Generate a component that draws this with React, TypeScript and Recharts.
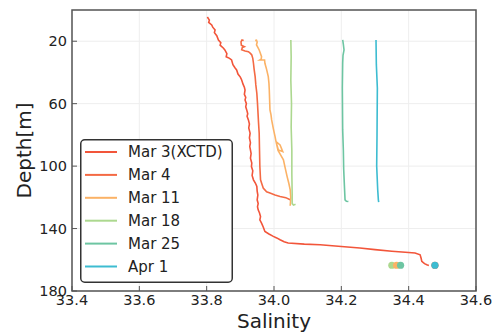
import React from 'react';
import {
  ComposedChart,
  Line,
  Scatter,
  XAxis,
  YAxis,
  CartesianGrid,
  ReferenceArea,
  Legend,
} from 'recharts';

const FONT = '"DejaVu Sans", Verdana, sans-serif';

// Salinity / depth profiles: [salinity, depth in m]
const mar3Profile: [number, number][] = [
  [33.802, 4.5], [33.808, 6.5], [33.806, 8], [33.815, 9.6], [33.818, 11], [33.825, 12.8],
  [33.823, 14.5], [33.83, 16.5], [33.835, 19.2], [33.842, 21], [33.84, 22.5], [33.85, 24.5],
  [33.854, 25.6], [33.86, 28], [33.858, 30], [33.868, 31], [33.874, 32], [33.878, 35],
  [33.884, 37], [33.889, 38.4], [33.893, 41], [33.9, 43], [33.904, 44.8], [33.908, 47.5],
  [33.912, 49.5], [33.914, 51.2], [33.912, 54], [33.916, 56], [33.914, 57.6], [33.918, 60],
  [33.916, 62], [33.919, 64], [33.922, 66.5], [33.92, 68], [33.924, 70.4], [33.927, 73],
  [33.925, 75.5], [33.929, 78.9], [33.927, 82], [33.93, 85], [33.928, 87.5], [33.93, 89.6],
  [33.932, 92], [33.93, 95], [33.934, 98], [33.933, 100.3], [33.937, 103], [33.935, 106],
  [33.939, 108.8], [33.945, 111], [33.949, 113], [33.95, 116], [33.952, 118.5], [33.95, 121.6],
  [33.953, 124], [33.951, 126], [33.953, 128], [33.957, 130], [33.96, 132.3], [33.958, 134.5],
  [33.963, 136.5], [33.968, 139], [33.973, 141.9], [33.985, 143.5], [33.998, 145], [34.008, 146],
  [34.018, 147.2], [34.03, 148.5], [34.042, 149.3], [34.09, 150], [34.137, 150.4], [34.2, 151.5],
  [34.255, 152.5], [34.3, 153.5], [34.35, 154.5], [34.4, 155.3], [34.419, 155.7], [34.434, 156.8],
  [34.437, 159], [34.439, 161], [34.447, 162.5], [34.454, 163.2], [34.46, 163.6],
];

const mar4Profile: [number, number][] = [
  [33.91, 19.5], [33.905, 19.2], [33.902, 20.5], [33.903, 22.5], [33.912, 23.5], [33.906, 24],
  [33.904, 25.5], [33.914, 26.3], [33.924, 26.7], [33.93, 27.8], [33.934, 28.8], [33.937, 31],
  [33.939, 34.1], [33.941, 38], [33.944, 42.7], [33.946, 48], [33.949, 53.3], [33.951, 60],
  [33.952, 64], [33.954, 72], [33.956, 78.9], [33.957, 90], [33.958, 100.3], [33.96, 108.8],
  [33.964, 111.5], [33.968, 114.1], [33.978, 116.5], [33.988, 117.3], [34.003, 118.5],
  [34.018, 119.5], [34.035, 120.2], [34.048, 121.6],
];

const mar11Profile: [number, number][] = [
  [33.944, 19.6], [33.948, 19.4], [33.95, 20.5], [33.948, 22.4], [33.952, 24], [33.956, 25.6],
  [33.96, 28], [33.963, 29.9], [33.962, 31.5], [33.958, 32], [33.972, 32], [33.973, 34.1],
  [33.978, 38], [33.983, 42.7], [33.985, 47], [33.986, 51.2], [33.987, 57.6], [33.988, 64],
  [33.991, 67], [33.993, 70.4], [33.998, 76], [34.003, 81], [34.006, 84.3], [34.018, 86.4],
  [34.026, 90.7], [34.013, 89.6], [34.006, 84.3], [34.012, 90], [34.02, 93], [34.028, 96],
  [34.033, 101], [34.039, 106.7], [34.044, 111], [34.048, 115], [34.05, 120.5], [34.049, 123],
  [34.048, 125.4],
];

const mar18Profile: [number, number][] = [
  [34.05, 19.2], [34.051, 30], [34.05, 45], [34.052, 60], [34.051, 75], [34.053, 90],
  [34.053, 105], [34.054, 118], [34.054, 124], [34.058, 125], [34.064, 124.5],
];

const mar25Profile: [number, number][] = [
  [34.204, 19.2], [34.206, 22], [34.208, 25.6], [34.205, 29], [34.204, 34], [34.203, 50],
  [34.204, 76.8], [34.206, 90], [34.207, 102], [34.209, 112], [34.211, 121.6], [34.215, 122.5],
  [34.221, 122.7],
];

const apr1Profile: [number, number][] = [
  [34.303, 19.2], [34.304, 35], [34.307, 50], [34.306, 80], [34.305, 100], [34.308, 115],
  [34.31, 121.6], [34.311, 123],
];

// Near-bottom single samples: [salinity, depth]
const mar4Bottom: [number, number] = [34.478, 163.5];
const mar18Bottom: [number, number] = [34.35, 163.5];
const mar11Bottom: [number, number] = [34.364, 163.5];
const mar25Bottom: [number, number] = [34.376, 163.5];
const apr1Bottom: [number, number] = [34.478, 163.5];

const seriesNames = ['Mar 3(XCTD)', 'Mar 4', 'Mar 11', 'Mar 18', 'Mar 25', 'Apr 1'];
const seriesColors = ['#f2553a', '#f46a44', '#fbb266', '#acd88f', '#6dc5a2', '#3dbcd1'];
const profiles = [mar3Profile, mar4Profile, mar11Profile, mar18Profile, mar25Profile, apr1Profile];

const salinityTicks = [33.4, 33.6, 33.8, 34.0, 34.2, 34.4, 34.6];
const depthTicks = [20, 60, 100, 140, 180];

const toRows = (pts: [number, number][]) => pts.map(([s, d]) => ({ s, d }));

const bottomDots = [
  { pt: mar4Bottom, color: seriesColors[1] },
  { pt: apr1Bottom, color: seriesColors[5] },
  { pt: mar18Bottom, color: seriesColors[3] },
  { pt: mar11Bottom, color: seriesColors[2] },
  { pt: mar25Bottom, color: seriesColors[4] },
];

const TICK_COLOR = '#555';
const LABEL_COLOR = '#222';

const YTick = (props: any) => {
  const { x, y, payload } = props;
  return (
    <g>
      <line x1={x} x2={x + 5} y1={y} y2={y} stroke={TICK_COLOR} strokeWidth={1} />
      <text x={x - 5} y={y} dy="0.36em" textAnchor="end" fontSize={14.5} fontFamily={FONT} fill={LABEL_COLOR}>
        {payload.value}
      </text>
    </g>
  );
};

const XTick = (props: any) => {
  const { x, y, payload } = props;
  return (
    <g>
      <line x1={x} x2={x} y1={y} y2={y - 5} stroke={TICK_COLOR} strokeWidth={1} />
      <text x={x} y={y + 13.5} textAnchor="middle" fontSize={14.5} fontFamily={FONT} fill={LABEL_COLOR}>
        {Number(payload.value).toFixed(1)}
      </text>
    </g>
  );
};

const LegendBox = () => {
  const w = 153;
  const h = 144;
  return (
    <svg width={w} height={h} style={{ display: 'block' }}>
      <rect x={0.75} y={0.75} width={w - 1.5} height={h - 1.5} rx={4} ry={4} fill="#fff" stroke="#333" strokeWidth={1.5} />
      {seriesNames.map((name, i) => {
        const cy = 13 + i * 22.9;
        return (
          <g key={name}>
            <line x1={5} x2={37} y1={cy} y2={cy} stroke={seriesColors[i]} strokeWidth={2} />
            <text x={48} y={cy} dy="0.36em" fontSize={15} fontFamily={FONT} fill={LABEL_COLOR}>
              {name}
            </text>
          </g>
        );
      })}
    </svg>
  );
};

export default function App() {
  return (
    <div style={{ position: 'absolute', left: 0, top: 0, width: 494, height: 334, background: '#fff' }}>
      <ComposedChart width={494} height={334} margin={{ top: 10, right: 18, bottom: 0, left: 0 }}>
        <CartesianGrid stroke="#eeeeee" strokeWidth={1} />
        <XAxis
          type="number"
          dataKey="s"
          domain={[33.4, 34.6]}
          ticks={salinityTicks}
          interval={0}
          allowDataOverflow
          height={43}
          tickSize={0}
          tickMargin={0}
          axisLine={false}
          tick={<XTick />}
          label={{
            value: 'Salinity',
            content: (p: any) => {
              const vb = p.viewBox;
              return (
                <text x={vb.x + vb.width / 2} y={vb.y + 37} textAnchor="middle" fontSize={20} fontFamily={FONT} fill={LABEL_COLOR}>
                  Salinity
                </text>
              );
            },
          }}
        />
        <YAxis
          type="number"
          dataKey="d"
          domain={[0, 180]}
          reversed
          ticks={depthTicks}
          interval={0}
          allowDataOverflow
          width={72}
          tickSize={0}
          tickMargin={0}
          axisLine={false}
          tick={<YTick />}
          label={{
            value: 'Depth[m]',
            content: (p: any) => {
              const vb = p.viewBox;
              const cx = 31;
              const cy = vb.y + vb.height / 2;
              return (
                <text x={cx} y={cy} transform={`rotate(-90 ${cx} ${cy})`} textAnchor="middle" fontSize={20} fontFamily={FONT} fill={LABEL_COLOR}>
                  Depth[m]
                </text>
              );
            },
          }}
        />
        {profiles.map((pts, i) => (
          <Line
            key={seriesNames[i]}
            data={toRows(pts)}
            dataKey="d"
            name={seriesNames[i]}
            type="linear"
            stroke={seriesColors[i]}
            strokeWidth={1.6}
            dot={false}
            activeDot={false}
            isAnimationActive={false}
            legendType="none"
          />
        ))}
        {bottomDots.map((b, i) => (
          <Scatter
            key={`dot-${i}`}
            data={[{ s: b.pt[0], d: b.pt[1] }]}
            fill={b.color}
            isAnimationActive={false}
            legendType="none"
            shape={(p: any) => <circle cx={p.cx} cy={p.cy} r={3.6} fill={b.color} />}
          />
        ))}
        <ReferenceArea x1={33.4} x2={34.6} y1={0} y2={180} fill="none" fillOpacity={0} stroke="#555" strokeWidth={1.5} ifOverflow="visible" />
        <Legend
          layout="vertical"
          align="center"
          verticalAlign="middle"
          wrapperStyle={{ left: 80, top: 139, width: 153, height: 144 }}
          content={() => <LegendBox />}
        />
      </ComposedChart>
    </div>
  );
}
